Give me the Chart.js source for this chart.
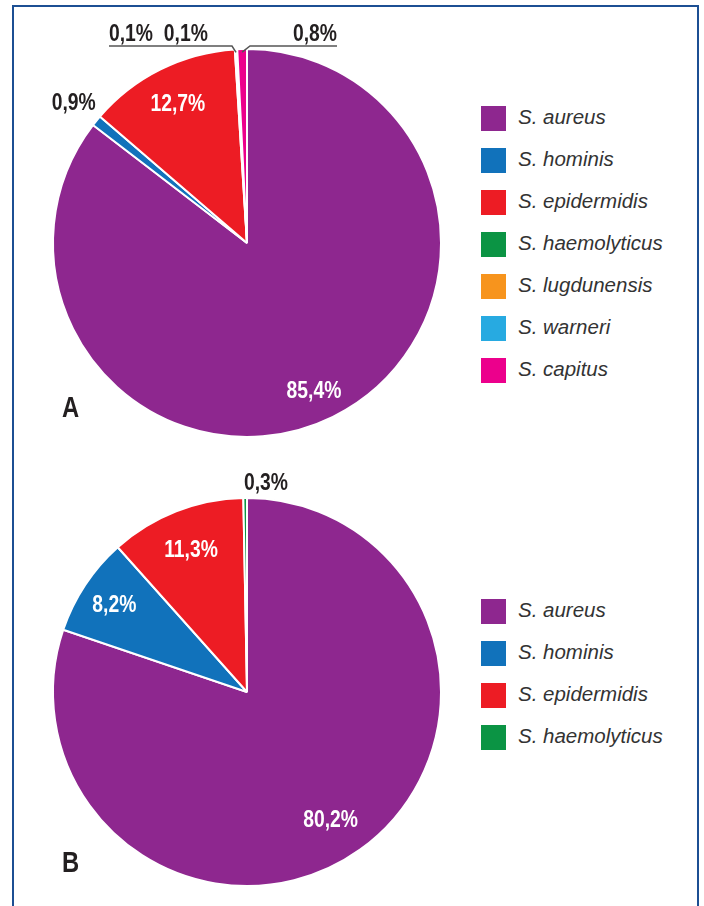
<!DOCTYPE html>
<html>
<head>
<meta charset="utf-8">
<script src="https://cdn.jsdelivr.net/npm/chart.js"></script>
<style>
  body { margin: 0; background: #fff; width: 704px; height: 906px; overflow: hidden; position: relative; }
  #frame { position: absolute; left: 12px; top: 5px; width: 687px; height: 930px; box-sizing: border-box;
           border: 2.5px solid #1c4f93; border-bottom: none; }
  canvas { position: absolute; }
  .panel { position: absolute; left: 62px; font: bold 29px "Liberation Sans", Arial, sans-serif;
           color: #231f20; line-height: 30px; transform: scaleX(0.82); transform-origin: left center; }
  .legend { position: absolute; left: 481px; }
  .legend div { position: relative; height: 42px; }
  .legend span.box { position: absolute; left: 0; top: 0; width: 25px; height: 25px; }
  .legend span.txt { position: absolute; left: 37px; top: -1px; line-height: 26px; white-space: nowrap;
           font: italic 20.5px "Liberation Sans", Arial, sans-serif; color: #333; }
</style>
</head>
<body>
<div id="frame"></div>
<canvas id="pieA" width="460" height="460" style="left:17px;top:13px"></canvas>
<canvas id="pieB" width="460" height="460" style="left:17px;top:462px"></canvas>
<div class="panel" style="top:392px">A</div>
<div class="panel" style="top:847px">B</div>
<div class="legend" id="legA" style="top:106px"></div>
<div class="legend" id="legB" style="top:599px"></div>
<script>
// panel A
const speciesA = ['S. aureus', 'S. hominis', 'S. epidermidis', 'S. haemolyticus', 'S. lugdunensis', 'S. warneri', 'S. capitus'];
const valuesA = [85.4, 0.9, 12.7, 0.1, 0.1, 0, 0.8];
// panel B
const speciesB = ['S. aureus', 'S. hominis', 'S. epidermidis', 'S. haemolyticus'];
const valuesB = [80.2, 8.2, 11.3, 0.3];

const colors = ['#8e278f', '#1172bb', '#ed1c24', '#0b9444', '#f7941d', '#27aae1', '#ec008c'];

const fmt = v => v.toFixed(1).replace('.', ',') + '%';

// condensed look: squeeze a normal bold face horizontally
function narrowText(ctx, text, x, y) {
  ctx.save();
  ctx.translate(x, y);
  ctx.scale(0.84, 1);
  ctx.fillText(text, 0, 0);
  ctx.restore();
}

// percentage labels, inside the slice or with a leader line
const sliceLabels = {
  id: 'sliceLabels',
  afterDatasetsDraw(chart, args, opts) {
    const ctx = chart.ctx;
    const arcs = chart.getDatasetMeta(0).data;
    const vals = chart.data.datasets[0].data;
    ctx.save();
    ctx.font = 'bold 23px "Liberation Sans", Arial, sans-serif';
    (opts.items || []).forEach(it => {
      const idx = [].concat(it.index);
      const a0 = arcs[idx[0]], a1 = arcs[idx[idx.length - 1]];
      const mid = (a0.startAngle + a1.endAngle) / 2;
      const R = a0.outerRadius, cx = a0.x, cy = a0.y;
      const text = idx.map(i => fmt(vals[i])).join('  ');
      ctx.fillStyle = it.color || '#231f20';
      if (it.line) {
        const ly = cy + it.line.y, x0 = cx + it.line.x0, x1 = cx + it.line.x1;
        ctx.strokeStyle = '#555';
        ctx.lineWidth = 1.5;
        ctx.beginPath();
        ctx.moveTo(x0, ly);
        ctx.lineTo(x1, ly);
        ctx.lineTo(cx + Math.cos(mid) * R, cy + Math.sin(mid) * R + 3);
        ctx.stroke();
        ctx.textAlign = x0 < x1 ? 'left' : 'right';
        ctx.textBaseline = 'alphabetic';
        narrowText(ctx, text, x0, ly - 5);
      } else {
        const r = R * it.r;
        ctx.textAlign = 'center';
        ctx.textBaseline = 'middle';
        narrowText(ctx, text, cx + Math.cos(mid) * r + (it.dx || 0), cy + Math.sin(mid) * r + 1);
      }
    });
    ctx.restore();
  }
};

function makePie(id, labels, values, items) {
  return new Chart(document.getElementById(id), {
    type: 'pie',
    data: {
      labels: labels,
      datasets: [{
        data: values,
        backgroundColor: colors.slice(0, values.length),
        borderColor: '#fff',
        borderWidth: 2
      }]
    },
    options: {
      responsive: false,
      animation: false,
      layout: { padding: 35 },
      plugins: {
        legend: { display: false },
        tooltip: { enabled: false },
        sliceLabels: { items: items }
      }
    },
    plugins: [sliceLabels]
  });
}

makePie('pieA', speciesA, valuesA, [
  { index: 0, r: 0.85, dx: -6, color: '#fff' },
  { index: 1, r: 1.15 },
  { index: 2, r: 0.8, color: '#fff' },
  { index: [3, 4], line: { x0: -138, x1: -15, y: -197 } },
  { index: 6, line: { x0: 90, x1: 3, y: -197 } }
]);

makePie('pieB', speciesB, valuesB, [
  { index: 0, r: 0.81, dx: -8, color: '#fff' },
  { index: 1, r: 0.82, color: '#fff' },
  { index: 2, r: 0.79, color: '#fff' },
  { index: 3, r: 1.08, dx: 21 }
]);

function legend(id, labels) {
  const el = document.getElementById(id);
  labels.forEach((name, i) => {
    const row = document.createElement('div');
    row.innerHTML = '<span class="box" style="background:' + colors[i] + '"></span><span class="txt">' + name + '</span>';
    el.appendChild(row);
  });
}
legend('legA', speciesA);
legend('legB', speciesB);
</script>
</body>
</html>
